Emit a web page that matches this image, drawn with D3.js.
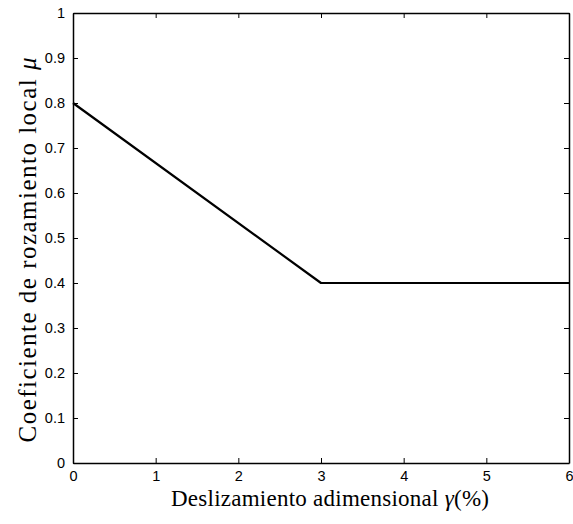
<!DOCTYPE html>
<html>
<head>
<meta charset="utf-8">
<script src="https://cdn.jsdelivr.net/npm/d3@7"></script>
<style>
  body { margin: 0; background: #fff; }
  .tick text { font-family: "Liberation Sans", Arial, sans-serif; font-size: 14.5px; fill: #000; }
  .axlabel { font-family: "Liberation Serif", "Times New Roman", serif; font-size: 23px; fill: #000; }
</style>
</head>
<body>
<script>
// friction curve: linear drop then constant
var slip = [0, 3, 6];
var mu = [0.8, 0.4, 0.4];
var xTicks = [0, 1, 2, 3, 4, 5, 6];
var yTicks = [0, 0.1, 0.2, 0.3, 0.4, 0.5, 0.6, 0.7, 0.8, 0.9, 1];

var w = 573, h = 524;
var m = { left: 73, right: 4, top: 13, bottom: 61 };
var iw = w - m.left - m.right, ih = h - m.top - m.bottom;

var svg = d3.select("body").append("svg")
    .attr("width", w)
    .attr("height", h);

var g = svg.append("g").attr("transform", "translate(" + m.left + "," + m.top + ")");

var x = d3.scaleLinear().domain([0, 6]).range([0, iw]);
var y = d3.scaleLinear().domain([0, 1]).range([ih, 0]);

var fmt = function(d) { return String(+d.toFixed(1)); };

// box with inward ticks on all four sides
g.append("g").attr("transform", "translate(0," + ih + ")")
    .call(d3.axisBottom(x).tickValues(xTicks).tickSizeInner(-5).tickSizeOuter(0).tickPadding(8).tickFormat(fmt));
g.append("g")
    .call(d3.axisTop(x).tickValues(xTicks).tickSizeInner(-5).tickSizeOuter(0).tickFormat(""));
g.append("g")
    .call(d3.axisLeft(y).tickValues(yTicks).tickSizeInner(-5).tickSizeOuter(0).tickPadding(8).tickFormat(fmt));
g.append("g").attr("transform", "translate(" + iw + ",0)")
    .call(d3.axisRight(y).tickValues(yTicks).tickSizeInner(-5).tickSizeOuter(0).tickFormat(""));

g.selectAll(".domain").attr("stroke", "#000").attr("stroke-width", 1.5);
g.selectAll(".tick line").attr("stroke", "#000");

var line = d3.line()
    .x(function(d, i) { return x(slip[i]); })
    .y(function(d) { return y(d); });

g.append("path")
    .datum(mu)
    .attr("d", line)
    .attr("fill", "none")
    .attr("stroke", "#000")
    .attr("stroke-width", 2.2)
    .attr("stroke-linejoin", "round");

// axis labels
var xl = svg.append("text").attr("class", "axlabel")
    .attr("x", 330)
    .attr("y", 506)
    .attr("text-anchor", "middle")
    .attr("textLength", 318)
    .attr("lengthAdjust", "spacing");
xl.append("tspan").text("Deslizamiento adimensional ");
xl.append("tspan").attr("font-style", "italic").text("γ");
xl.append("tspan").text("(%)");

var yl = svg.append("text").attr("class", "axlabel")
    .style("font-size", "25px")
    .attr("transform", "translate(36,250) rotate(-90)")
    .attr("text-anchor", "middle")
    .attr("textLength", 385)
    .attr("lengthAdjust", "spacing");
yl.append("tspan").text("Coeficiente de rozamiento local ");
yl.append("tspan").attr("font-style", "italic").text("μ");
</script>
</body>
</html>
